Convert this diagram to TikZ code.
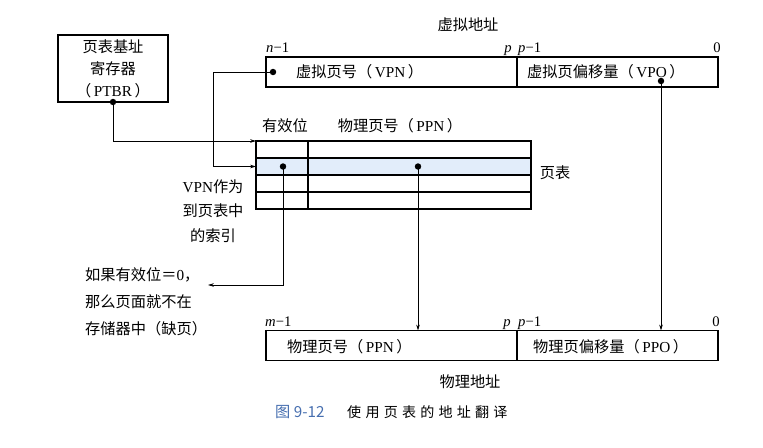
\documentclass[tikz,border=0pt]{standalone}
\usepackage{fontspec}
\setmainfont{Liberation Serif}
\newfontfamily\cjk{Noto Sans CJK SC}
\newfontfamily\capfont[LetterSpace=30]{Noto Sans CJK SC}
\usetikzlibrary{arrows.meta}
\definecolor{RowBlue}{RGB}{226,237,250}
\definecolor{CapBlue}{RGB}{70,110,175}
\newcommand{\zh}[1]{{\cjk #1}}
\newcommand{\px}{0.03cm}

\begin{document}
\begin{tikzpicture}[x=0.03cm, y=-0.03cm,
                field/.style={draw, line width=1pt, outer sep=0pt, inner sep=0pt, minimum height=30*\px},
                tablerow/.style={draw, line width=0.9pt, outer sep=0pt, inner sep=0pt, minimum width=275*\px, minimum height=17*\px},
                txt/.style={font=\fontsize{13}{19}\selectfont, inner sep=0pt},
                bit/.style={font=\fontsize{12.5}{14}\selectfont, inner sep=0pt},
                dot/.style={circle, fill, inner sep=0pt, minimum size=5.5pt},
                link/.style={line width=0.6pt},
                arr/.style={link, -{Stealth[length=5pt, width=3pt]}}
            ]
                \useasboundingbox (0,0) rectangle (763,447);

                % PTBR
                \node[draw, line width=1pt, outer sep=0pt, minimum width=110*\px, minimum height=67*\px, align=center, font=\fontsize{13}{18.7}\selectfont] (ptbr) at (113,68.5) {\zh{页表基址}\\\zh{寄存器}\\\zh{（}\,PTBR\,\zh{）}};
                \node[dot] (ptbrdot) at (ptbr.south) {};

                % Virtual address
                \node[txt] (vatitle) at (468,25) {\zh{虚拟地址}};
                \node[bit, anchor=base west] (vbitn) at (266,52) {\textit{n}−1};
                \node[bit, anchor=base east] (vbitp) at (512,52) {\textit{p}};
                \node[bit, anchor=base west] (vbitpm) at (518,52) {\textit{p}−1};
                \node[bit, anchor=base east] (vbitz) at (721,52) {0};
                \node[field, minimum width=251*\px] (vpn) at (391.5,72) {};
                \node[field, minimum width=201*\px] (vpo) at (617.5,72) {};
                \node[txt, anchor=west] (vpnlab) at (296,72) {\zh{虚拟页号（}\,VPN\,\zh{）}};
                \node[txt, anchor=west] (vpolab) at (527,72) {\zh{虚拟页偏移量（}\,VPO\,\zh{）}};
                \node[dot] (vpndot) at (273,72) {};
                \node[dot] (vpodot) at (661,81) {};

                % Page table
                \node[txt] (validhd) at (285,126) {\zh{有效位}};
                \node[txt] (ppnhd) at (400,126) {\zh{物理页号（}\,PPN\,\zh{）}};
                \node[tablerow] (r1) at (393.5,149.5) {};
                \node[tablerow, fill=RowBlue] (r2) at (393.5,166.5) {};
                \node[tablerow] (r3) at (393.5,183.5) {};
                \node[tablerow] (r4) at (393.5,200.5) {};
                \draw[line width=0.9pt] ([xshift=52*\px]r1.north west) -- ([xshift=52*\px]r4.south west);
                \node[txt] (ptlab) at (555,173) {\zh{页表}};
                \node[dot] (vdot) at (283,166.5) {};
                \node[dot] (pdot) at (418,166.5) {};
                \node[txt, align=center, font=\fontsize{13}{21}\selectfont] (idx) at (213,211) {VPN\zh{作为}\\\zh{到页表中}\\\zh{的索引}};
                \node[txt, align=left, anchor=west, font=\fontsize{13}{23}\selectfont] (miss) at (85,302) {\zh{如果有效位＝}0\zh{，}\\\zh{那么页面就不在}\\\zh{存储器中（缺页）}};
                \coordinate (misstip) at (208,285);

                % Physical address
                \node[bit, anchor=base west] (pbitm) at (265,326) {\textit{m}−1};
                \node[bit, anchor=base east] (pbitp) at (511,326) {\textit{p}};
                \node[bit, anchor=base west] (pbitpm) at (518,326) {\textit{p}−1};
                \node[bit, anchor=base east] (pbitz) at (720,326) {0};
                \node[field, minimum width=251*\px] (ppn) at (391.5,345.5) {};
                \node[field, minimum width=201*\px] (ppo) at (617.5,345.5) {};
                \node[txt, anchor=west] (ppnlab) at (287,347) {\zh{物理页号（}\,PPN\,\zh{）}};
                \node[txt, anchor=west] (ppolab) at (533,347) {\zh{物理页偏移量（}\,PPO\,\zh{）}};
                \node[txt] (patitle) at (470,382) {\zh{物理地址}};

                % Connectors
                \coordinate (vbend) at (213,72);
                \draw[arr] (ptbrdot.center) |- (r1.north west);
                \draw[arr] (vpndot.center) -- (vbend) |- (r2.west);
                \draw[arr] (vdot.center) |- (misstip);
                \draw[arr] (pdot.center) -- (pdot |- ppn.north);
                \draw[arr] (vpodot.center) -- (vpodot |- ppo.north);

                % Caption
                \node[anchor=west, inner sep=0pt, font=\fontsize{13}{15}\selectfont\cjk\color{CapBlue}] (capnum) at (275,412) {图 9-12};
                \node[anchor=west, inner sep=0pt, font=\fontsize{12}{14}\selectfont\capfont] (captxt) at (347,412) {使用页表的地址翻译};
            \end{tikzpicture}
\end{document}
